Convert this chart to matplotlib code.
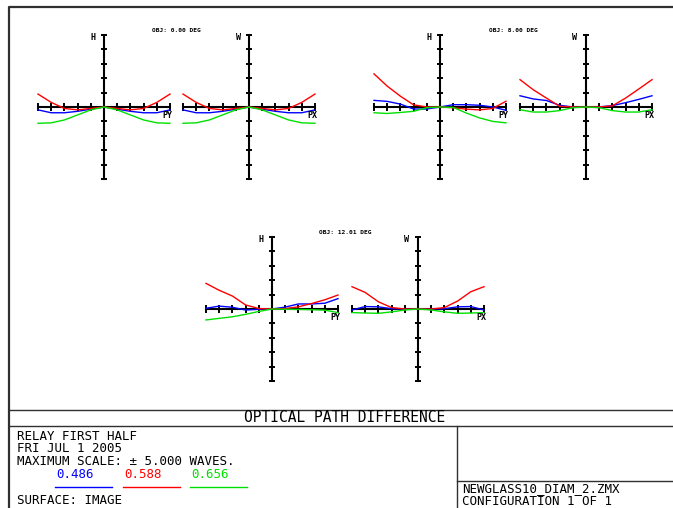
import matplotlib
matplotlib.use("Agg")
import matplotlib.pyplot as plt
import numpy as np

W, H = 673, 508

# pupil coordinate samples (normalised)
pupil = [-1.0, -0.8, -0.6, -0.4, -0.2, 0.0, 0.2, 0.4, 0.6, 0.8, 1.0]

# OPD in waves, field 1 (on axis) - tangential (PY) and sagittal (PX)
f1_py_blue = [-0.2, -0.4, -0.4, -0.3, -0.15, 0.0, -0.15, -0.3, -0.4, -0.4, -0.2]
f1_py_red = [0.9, 0.32, -0.1, -0.2, -0.1, 0.0, -0.1, -0.2, -0.1, 0.32, 0.9]
f1_py_green = [-1.13, -1.1, -0.9, -0.55, -0.2, 0.0, -0.2, -0.55, -0.9, -1.1, -1.13]
f1_px_blue = [-0.2, -0.4, -0.4, -0.3, -0.15, 0.0, -0.15, -0.3, -0.4, -0.4, -0.2]
f1_px_red = [0.9, 0.32, -0.1, -0.2, -0.1, 0.0, -0.1, -0.2, -0.1, 0.32, 0.9]
f1_px_green = [-1.13, -1.1, -0.9, -0.55, -0.2, 0.0, -0.2, -0.55, -0.9, -1.1, -1.13]

# field 2
f2_py_blue = [0.46, 0.39, 0.2, -0.14, -0.14, 0.0, 0.16, 0.16, 0.12, 0.0, -0.23]
f2_py_red = [2.3, 1.45, 0.75, 0.15, 0.0, 0.0, -0.05, -0.15, -0.2, -0.1, 0.4]
f2_py_green = [-0.4, -0.45, -0.38, -0.3, -0.05, 0.0, -0.03, -0.42, -0.76, -1.0, -1.1]
f2_px_blue = [0.78, 0.56, 0.45, 0.12, 0.0, 0.0, 0.0, 0.1, 0.3, 0.53, 0.78]
f2_px_red = [1.9, 1.2, 0.62, 0.05, 0.0, 0.0, 0.0, 0.08, 0.62, 1.25, 1.9]
f2_px_green = [-0.19, -0.35, -0.35, -0.25, -0.05, 0.0, -0.05, -0.25, -0.35, -0.35, -0.19]

# field 3
f3_py_blue = [0.05, 0.2, 0.12, -0.07, -0.02, 0.0, 0.13, 0.35, 0.35, 0.4, 0.72]
f3_py_red = [1.78, 1.3, 0.9, 0.28, 0.03, 0.0, 0.03, 0.15, 0.38, 0.64, 0.97]
f3_py_green = [-0.76, -0.65, -0.54, -0.37, -0.17, 0.0, -0.02, -0.03, -0.05, -0.08, -0.25]
f3_px_blue = [-0.07, 0.17, 0.15, 0.02, 0.0, 0.0, 0.0, 0.02, 0.15, 0.17, -0.07]
f3_px_red = [1.55, 1.15, 0.5, 0.1, 0.0, 0.0, 0.0, 0.1, 0.55, 1.2, 1.55]
f3_px_green = [-0.25, -0.28, -0.3, -0.2, -0.07, 0.0, -0.07, -0.2, -0.3, -0.28, -0.25]

field_titles = ["OBJ: 0.00 DEG", "OBJ: 8.00 DEG", "OBJ: 12.01 DEG"]
wavelengths = ["0.486", "0.588", "0.656"]
colors = ["#0000ff", "#ff0000", "#00e000"]
max_scale = 5.0

fields = [
    (f1_py_blue, f1_py_red, f1_py_green, f1_px_blue, f1_px_red, f1_px_green),
    (f2_py_blue, f2_py_red, f2_py_green, f2_px_blue, f2_px_red, f2_px_green),
    (f3_py_blue, f3_py_red, f3_py_green, f3_px_blue, f3_px_red, f3_px_green),
]

# pixel centres of the tangential / sagittal fans for each field
centres = [((104, 107), (249, 107)),
           ((440, 107), (586, 107)),
           ((272, 309), (418, 309))]
HALF_W, HALF_H = 66, 72

MONO = "DejaVu Sans Mono"

fig = plt.figure(figsize=(W / 100, H / 100), dpi=100)

# frame / info box drawn in pixel space
frame = fig.add_axes([0, 0, 1, 1])
frame.set_xlim(0, W)
frame.set_ylim(H, 0)
frame.axis("off")
frame.plot([9, 9, W], [H, 7, 7], color="#303030", lw=1.6)
frame.plot([9, W], [410, 410], color="#303030", lw=1.0)
frame.plot([9, W], [426, 426], color="#303030", lw=1.0)
frame.plot([457, 457], [426, H], color="#303030", lw=1.0)
frame.plot([457, W], [481, 481], color="#303030", lw=1.0)


def make_fan(cx, cy, series, label, axis_name):
    ax = fig.add_axes([(cx - HALF_W) / W, 1 - (cy + HALF_H) / H,
                       2 * HALF_W / W, 2 * HALF_H / H])
    ax.set_xlim(-1, 1)
    ax.set_ylim(-max_scale, max_scale)
    ax.patch.set_alpha(0)
    for s in ("top", "right"):
        ax.spines[s].set_visible(False)
    for s in ("left", "bottom"):
        ax.spines[s].set_position("zero")
        ax.spines[s].set_linewidth(1.5)
    ax.set_xticks(np.linspace(-1, 1, 11))
    ax.set_yticks(np.arange(-max_scale, max_scale + 1, 1))
    ax.tick_params(axis="x", direction="inout", length=6, width=1.4,
                   labelbottom=False)
    ax.tick_params(axis="y", direction="inout", length=4.5, width=1.4,
                   labelleft=False)
    for vals, c in zip(series, colors):
        ax.plot(pupil, vals, color=c, lw=1.0, clip_on=False, zorder=3)
    fig.text((cx - 11) / W, 1 - (cy - 69) / H, label,
             family=MONO, fontsize=6, weight="bold", ha="center", va="center")
    fig.text((cx + 63) / W, 1 - (cy + 9) / H, axis_name,
             family=MONO, fontsize=6, weight="bold", ha="center", va="center")
    return ax


for (tc, sc), data, title in zip(centres, fields, field_titles):
    make_fan(tc[0], tc[1], data[:3], "H", "PY")
    make_fan(sc[0], sc[1], data[3:], "W", "PX")
    mid = (tc[0] + sc[0]) / 2
    fig.text(mid / W, 1 - (tc[1] - 77) / H, title, family=MONO,
             fontsize=4.5, weight="bold", ha="center", va="center")

# info box text
fig.text(345 / W, 1 - 418 / H, "OPTICAL PATH DIFFERENCE", family=MONO,
         fontsize=10.5, ha="center", va="center")
info_lines = ["RELAY FIRST HALF", "FRI JUL 1 2005",
              "MAXIMUM SCALE: \u00b1 5.000 WAVES."]
for i, line in enumerate(info_lines):
    fig.text(17 / W, 1 - (436.5 + 12.5 * i) / H, line, family=MONO,
             fontsize=9, ha="left", va="center")
wl_x = [56, 124, 191]
for x, wl, c in zip(wl_x, wavelengths, colors):
    fig.text(x / W, 1 - 474 / H, wl, family=MONO, fontsize=9, color=c,
             ha="left", va="center")
    frame.plot([x - 1, x + 56], [487, 487], color=c, lw=1.0)
fig.text(17 / W, 1 - 500 / H, "SURFACE: IMAGE", family=MONO, fontsize=9,
         ha="left", va="center")
fig.text(462 / W, 1 - 489 / H, "NEWGLASS10_DIAM_2.ZMX", family=MONO,
         fontsize=9, ha="left", va="center")
fig.text(462 / W, 1 - 501.5 / H, "CONFIGURATION 1 OF 1", family=MONO,
         fontsize=9, ha="left", va="center")

fig.savefig("out.png", dpi=100)
